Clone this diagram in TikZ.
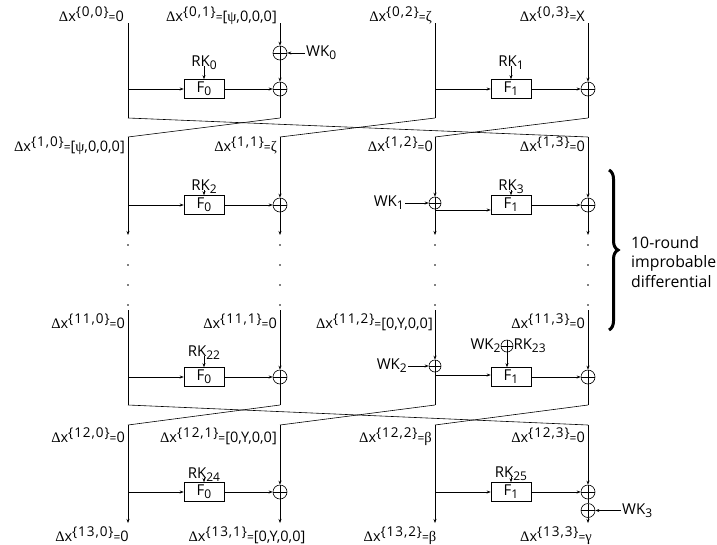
\documentclass[tikz,border=0pt]{standalone}
\usepackage{fontspec}
\setmainfont{Open Sans}
\newfontfamily\grk{Liberation Serif}
\usetikzlibrary{arrows.meta,decorations.pathreplacing}
\newcommand{\Dlt}{{\grk Δ}}
\newcommand{\gk}[1]{{\grk #1}}
\newcommand{\Dx}[2]{\Dlt x\raisebox{0.55ex}{\fontsize{13.5}{13.5}\selectfont\addfontfeatures{LetterSpace=7}\{#1\}}{\fontsize{12}{12}\selectfont=}#2}
\newcommand{\sbs}[1]{\raisebox{-0.4ex}{\fontsize{12}{12}\selectfont #1}}
\begin{document}
\begin{tikzpicture}[x=1pt,y=-1pt,
  ln/.style={line width=0.6pt},
  arr/.style={line width=0.6pt,-{Stealth[length=4pt,width=3pt]}},
  xr/.style={circle,draw,line width=0.6pt,minimum size=14pt,inner sep=0pt,
    path picture={\draw[line width=0.6pt] (path picture bounding box.north) -- (path picture bounding box.south)
      (path picture bounding box.west) -- (path picture bounding box.east);}},
  xs/.style={xr,minimum size=12pt},
  fb/.style={draw,line width=0.6pt,minimum width=40pt,minimum height=19pt,inner sep=0pt,font=\fontsize{15}{15}\selectfont},
  lbl/.style={inner sep=0pt,font=\fontsize{14.5}{14.5}\selectfont},
  key/.style={inner sep=1pt,font=\fontsize{15}{15}\selectfont},
  bt/.style={inner sep=0pt,align=left,font=\fontsize{15.8}{19.5}\selectfont},
  dotm/.style={circle,fill,inner sep=0pt,minimum size=1.8pt},
  brc/.style={decorate,decoration={brace,amplitude=9pt},line width=3pt}
]
\useasboundingbox (0,0) rectangle (717,544);

% ---------- round 0 ----------
\node[lbl,anchor=base east] (l00) at (124,21) {\Dx{0,0}{0}};
\node[lbl,anchor=base east] (l01) at (277,21) {\Dx{0,1}{[\gk{ψ},0,0,0]}};
\node[lbl,anchor=base east] (l02) at (432,21) {\Dx{0,2}{\gk{ζ}}};
\node[lbl,anchor=base east] (l03) at (585,21) {\Dx{0,3}{X}};
\coordinate (a0t) at (128,23); \coordinate (b0t) at (280,23);
\coordinate (c0t) at (435,23); \coordinate (d0t) at (588,23);
\coordinate (a0m) at (128,89); \coordinate (c0m) at (435,89);
\coordinate (a0b) at (128,118); \coordinate (b0b) at (280,118);
\coordinate (c0b) at (435,118); \coordinate (d0b) at (588,118);
\node[fb] (F0r0) at (204,89) {F\sbs{0}};
\node[fb] (F1r0) at (511,89) {F\sbs{1}};
\node[xr] (x1r0) at (280,89) {};
\node[xr] (x3r0) at (588,89) {};
\node[xr] (w0) at (280,53) {};
\node[key,anchor=west] (WK0) at (305,53) {WK\sbs{0}};
\node[key,anchor=base] (RK0) at (204,66) {RK\sbs{0}};
\node[key,anchor=base] (RK1) at (511,66) {RK\sbs{1}};
\draw[ln] (a0t) -- (a0b);
\draw[arr] (a0m) -- (F0r0.west);
\draw[arr] (F0r0.east) -- (x1r0.west);
\draw[arr] (b0t) -- (w0.north);
\draw[arr] (WK0.west) -- (w0.east);
\draw[arr] (w0.south) -- (x1r0.north);
\draw[ln] (x1r0.south) -- (b0b);
\draw[ln] (c0t) -- (c0b);
\draw[arr] (c0m) -- (F1r0.west);
\draw[arr] (F1r0.east) -- (x3r0.west);
\draw[arr] (d0t) -- (x3r0.north);
\draw[ln] (x3r0.south) -- (d0b);
\draw[arr] (RK0.base) -- (F0r0.north);
\draw[arr] (RK1.base) -- (F1r0.north);

% ---------- crossing 0 -> 1 ----------
\coordinate (a1t) at (128,137); \coordinate (b1t) at (280,137);
\coordinate (c1t) at (435,137); \coordinate (d1t) at (588,137);
\draw[ln] (a0b) -- (d1t);
\draw[ln] (b0b) -- (a1t);
\draw[ln] (c0b) -- (b1t);
\draw[ln] (d0b) -- (c1t);

% ---------- round 1 ----------
\node[lbl,anchor=base east] (l10) at (125,151) {\Dx{1,0}{[\gk{ψ},0,0,0]}};
\node[lbl,anchor=base east] (l11) at (277,151) {\Dx{1,1}{\gk{ζ}}};
\node[lbl,anchor=base east] (l12) at (433,151) {\Dx{1,2}{0}};
\node[lbl,anchor=base east] (l13) at (585,151) {\Dx{1,3}{0}};
\coordinate (a1m) at (128,205); \coordinate (c1m) at (435,210);
\coordinate (a1e) at (128,235); \coordinate (b1e) at (280,235);
\coordinate (c1e) at (435,235); \coordinate (d1e) at (588,235);
\node[fb] (F0r1) at (204,205) {F\sbs{0}};
\node[fb] (F1r1) at (511,205) {F\sbs{1}};
\node[xr] (x1r1) at (280,205) {};
\node[xs] (w1) at (435,203) {};
\node[xr] (x3r1) at (588,205) {};
\node[key,anchor=east] (WK1) at (405,203) {WK\sbs{1}};
\node[key,anchor=base] (RK2) at (204,190) {RK\sbs{2}};
\node[key,anchor=base] (RK3) at (511,190) {RK\sbs{3}};
\draw[arr] (a1t) -- (a1e);
\draw[arr] (a1m) -- (F0r1.west);
\draw[arr] (F0r1.east) -- (x1r1.west);
\draw[arr] (b1t) -- (x1r1.north);
\draw[arr] (x1r1.south) -- (b1e);
\draw[arr] (c1t) -- (w1.north);
\draw[arr] (WK1.east) -- (w1.west);
\draw[arr] (w1.south) -- (c1e);
\draw[arr] (c1m) -- (c1m -| F1r1.west);
\draw[arr] (F1r1.east) -- (x3r1.west);
\draw[arr] (d1t) -- (x3r1.north);
\draw[arr] (x3r1.south) -- (d1e);
\draw[arr] (RK2.base) -- (F0r1.north);
\draw[arr] (RK3.base) -- (F1r1.north);

% ---------- dots ----------
\foreach \cx in {128,280,435,588}
  \foreach \cy in {245,265,285,305}
    \node[dotm] (dot-\cx-\cy) at (\cx,\cy) {};

% ---------- round 11 ----------
\node[lbl,anchor=base east] (l20) at (125,328) {\Dx{11,0}{0}};
\node[lbl,anchor=base east] (l21) at (277,328) {\Dx{11,1}{0}};
\node[lbl,anchor=base east] (l22) at (433,328) {\Dx{11,2}{[0,Y,0,0]}};
\node[lbl,anchor=base east] (l23) at (585,328) {\Dx{11,3}{0}};
\coordinate (a2t) at (128,310); \coordinate (b2t) at (280,310);
\coordinate (c2t) at (435,310); \coordinate (d2t) at (588,310);
\coordinate (a2m) at (128,377); \coordinate (c2m) at (435,375);
\coordinate (a2b) at (128,405); \coordinate (b2b) at (280,405);
\coordinate (c2b) at (435,405); \coordinate (d2b) at (588,405);
\node[fb] (F0r2) at (204,377) {F\sbs{0}};
\node[fb] (F1r2) at (511,377) {F\sbs{1}};
\node[xr] (x1r2) at (280,377) {};
\node[xs] (w2) at (435,366) {};
\node[xr] (x3r2) at (588,377) {};
\node[key,anchor=east] (WK2) at (408,366) {WK\sbs{2}};
\node[key,anchor=base] (RK22) at (204,356) {RK\sbs{22}};
\node[xs] (wr) at (507,346) {};
\node[key,anchor=east,inner sep=0pt] (WK2b) at (wr.west) {WK\sbs{2}};
\node[key,anchor=west,inner sep=0pt] (RK23) at (wr.east) {RK\sbs{23}};
\draw[ln] (a2t) -- (a2b);
\draw[arr] (a2m) -- (F0r2.west);
\draw[arr] (F0r2.east) -- (x1r2.west);
\draw[arr] (b2t) -- (x1r2.north);
\draw[ln] (x1r2.south) -- (b2b);
\draw[arr] (c2t) -- (w2.north);
\draw[arr] (WK2.east) -- (w2.west);
\draw[ln] (w2.south) -- (c2b);
\draw[arr] (c2m) -- (c2m -| F1r2.west);
\draw[arr] (F1r2.east) -- (x3r2.west);
\draw[arr] (d2t) -- (x3r2.north);
\draw[ln] (x3r2.south) -- (d2b);
\draw[arr] (RK22.base) -- (F0r2.north);
\draw[arr] (wr.south) -- (wr.south |- F1r2.north);

% ---------- crossing 11 -> 12 ----------
\coordinate (a3t) at (128,425); \coordinate (b3t) at (280,425);
\coordinate (c3t) at (435,425); \coordinate (d3t) at (588,425);
\draw[ln] (a2b) -- (d3t);
\draw[ln] (b2b) -- (a3t);
\draw[ln] (c2b) -- (b3t);
\draw[ln] (d2b) -- (c3t);

% ---------- round 12 ----------
\node[lbl,anchor=base east] (l30) at (125,442) {\Dx{12,0}{0}};
\node[lbl,anchor=base east] (l31) at (277,442) {\Dx{12,1}{[0,Y,0,0]}};
\node[lbl,anchor=base east] (l32) at (432,442) {\Dx{12,2}{\gk{β}}};
\node[lbl,anchor=base east] (l33) at (585,442) {\Dx{12,3}{0}};
\coordinate (a3m) at (128,492); \coordinate (c3m) at (435,492);
\coordinate (a3e) at (128,523); \coordinate (b3e) at (280,523);
\coordinate (c3e) at (435,523); \coordinate (d3e) at (588,523);
\node[fb] (F0r3) at (204,492) {F\sbs{0}};
\node[fb] (F1r3) at (511,492) {F\sbs{1}};
\node[xr] (x1r3) at (280,492) {};
\node[xr] (x3r3) at (588,492) {};
\node[xr] (w3) at (588,510.5) {};
\node[key,anchor=west] (WK3) at (621,510.5) {WK\sbs{3}};
\node[key,anchor=base] (RK24) at (204,478) {RK\sbs{24}};
\node[key,anchor=base] (RK25) at (511,477) {RK\sbs{25}};
\draw[arr] (a3t) -- (a3e);
\draw[arr] (a3m) -- (F0r3.west);
\draw[arr] (F0r3.east) -- (x1r3.west);
\draw[arr] (b3t) -- (x1r3.north);
\draw[arr] (x1r3.south) -- (b3e);
\draw[arr] (c3t) -- (c3e);
\draw[arr] (c3m) -- (F1r3.west);
\draw[arr] (F1r3.east) -- (x3r3.west);
\draw[arr] (d3t) -- (x3r3.north);
\draw[ln] (x3r3.south) -- (w3.north);
\draw[arr] (WK3.west) -- (w3.east);
\draw[arr] (w3.south) -- (d3e);
\draw[arr] (RK24.base) -- (F0r3.north);
\draw[arr] (RK25.base) -- (F1r3.north);

% ---------- bottom labels ----------
\node[lbl,anchor=base] (l40) at (92,541) {\Dx{13,0}{0}};
\node[lbl,anchor=base] (l41) at (247,541) {\Dx{13,1}{[0,Y,0,0]}};
\node[lbl,anchor=base] (l42) at (400,541) {\Dx{13,2}{\gk{β}}};
\node[lbl,anchor=base] (l43) at (556,541) {\Dx{13,3}{\gk{γ}}};

% ---------- brace ----------
\coordinate (br1) at (609,170); \coordinate (br2) at (609,330);
\draw[brc] (br1) -- (br2);
\node[bt,anchor=west] (brtxt) at (631,262) {10-round\\improbable\\differential};
\end{tikzpicture}
\end{document}
